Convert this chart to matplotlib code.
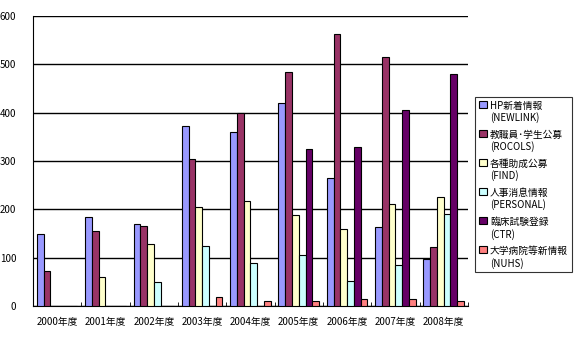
import numpy as np
import matplotlib
matplotlib.use('Agg')
import matplotlib.pyplot as plt

plt.rcParams['font.family'] = ['Noto Sans CJK JP', 'DejaVu Sans']

years = ['2000年度', '2001年度', '2002年度', '2003年度', '2004年度',
         '2005年度', '2006年度', '2007年度', '2008年度']
series_names = ['HP新着情報\n(NEWLINK)', '教職員･学生公募\n(ROCOLS)', '各種助成公募\n(FIND)',
                '人事消息情報\n(PERSONAL)', '臨床試験登録\n(CTR)', '大学病院等新情報\n(NUHS)']
newlink = [150, 184, 170, 372, 361, 419, 264, 163, 98]
rocols = [72, 155, 166, 304, 399, 484, 563, 515, 122]
find = [0, 60, 128, 204, 217, 188, 159, 212, 225]
personal = [0, 0, 50, 124, 89, 105, 51, 84, 190]
ctr = [0, 0, 0, 0, 0, 325, 329, 405, 481]
nuhs = [0, 0, 0, 18, 10, 10, 14, 14, 10]
colors = ['#9999FF', '#993366', '#FFFFCC', '#CCFFFF', '#660066', '#FF8080']

data = [newlink, rocols, find, personal, ctr, nuhs]

fig = plt.figure(figsize=(5.76, 3.64), dpi=100)
ax = fig.add_axes([0.0573, 0.1593, 0.755, 0.7967])

x = np.arange(len(years))
w = 0.14
for i, (vals, name, c) in enumerate(zip(data, series_names, colors)):
    ax.bar(x + (i - 2.5) * w, vals, w, color=c, edgecolor='black', linewidth=0.8,
           label=name, zorder=3)

ax.set_xlim(-0.5, len(years) - 0.5)
ax.set_ylim(0, 600)
ax.set_yticks(range(0, 601, 100))
ax.yaxis.grid(True, color='black', linewidth=1, zorder=0)
ax.set_xticks(x)
ax.set_xticklabels(years, fontsize=7)
ax.set_xticks(np.arange(-0.5, len(years)), minor=True)
ax.tick_params(axis='x', which='major', length=0, pad=8)
ax.tick_params(axis='x', which='minor', length=3, direction='in')
ax.tick_params(axis='y', length=0, labelsize=7, pad=12)
for s in ['top', 'right']:
    ax.spines[s].set_visible(False)

leg = ax.legend(loc='upper left', bbox_to_anchor=(0.825, 0.734), bbox_transform=fig.transFigure,
                borderaxespad=0, fontsize=7, frameon=True, fancybox=False, edgecolor='black',
                handlelength=0.8, handleheight=0.8, handletextpad=0.3, labelspacing=0.65,
                borderpad=0.4)
leg.get_frame().set_linewidth(0.8)
for t in leg.get_texts():
    t.set_linespacing(1.2)
# put the colour square next to the first line of each label
for col in leg._legend_handle_box.get_children():
    for row in col.get_children():
        row.align = 'top'

fig.savefig('out.png', dpi=100)
